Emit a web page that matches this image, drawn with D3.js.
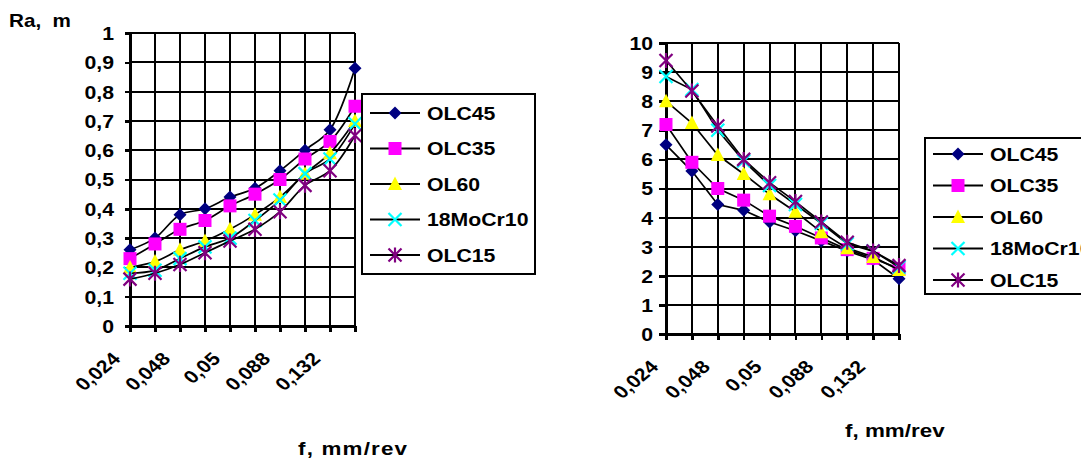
<!DOCTYPE html>
<html>
  <head>
    <meta charset="utf-8">
    <title>Roughness vs feed</title>
    <script src="https://d3js.org/d3.v7.min.js"></script>
    <style>
      body { margin: 0; background: white; }
      svg { display: block; font-family: Arial, "Liberation Sans", sans-serif; font-weight: bold; }
      .grid line { stroke: black; stroke-width: 2; shape-rendering: crispEdges; }
      .axis path, .axis line { stroke: black; stroke-width: 2.5; shape-rendering: crispEdges; }
      .axis text { fill: black; }
      .series { fill: none; stroke: black; stroke-width: 1.7; }
      .legendBox { fill: white; stroke: black; stroke-width: 2; shape-rendering: crispEdges; }
    </style>
  </head>
  <body>
    <svg id="chart" width="1081" height="461"></svg>
    <script>
      // feed categories - Excel only printed every other label
      const feedLabels = ["0,024", "", "0,048", "", "0,05", "", "0,088", "", "0,132", ""];
      const steels = ["OLC45", "OLC35", "OL60", "18MoCr10", "OLC15"];

      // left chart: Ra
      const raOLC45 = [0.26, 0.30, 0.38, 0.40, 0.44, 0.47, 0.53, 0.60, 0.67, 0.88];
      const raOLC35 = [0.23, 0.28, 0.33, 0.36, 0.41, 0.45, 0.50, 0.57, 0.63, 0.75];
      const raOL60 = [0.20, 0.22, 0.26, 0.29, 0.33, 0.38, 0.44, 0.52, 0.59, 0.70];
      const raMoCr10 = [0.18, 0.19, 0.23, 0.27, 0.30, 0.36, 0.43, 0.52, 0.57, 0.69];
      const raOLC15 = [0.16, 0.18, 0.21, 0.25, 0.29, 0.33, 0.39, 0.48, 0.53, 0.65];
      const raTicks = [0, 0.1, 0.2, 0.3, 0.4, 0.5, 0.6, 0.7, 0.8, 0.9, 1];

      // right chart
      const rOLC45 = [6.5, 5.6, 4.45, 4.25, 3.85, 3.55, 3.2, 2.85, 2.55, 1.9];
      const rOLC35 = [7.2, 5.9, 5.0, 4.6, 4.05, 3.7, 3.3, 2.9, 2.6, 2.25];
      const rOL60 = [8.0, 7.25, 6.15, 5.5, 4.8, 4.2, 3.5, 2.95, 2.65, 2.2];
      const rMoCr10 = [8.85, 8.4, 7.0, 5.95, 5.1, 4.45, 3.8, 3.1, 2.85, 2.3];
      const rOLC15 = [9.4, 8.35, 7.15, 6.0, 5.2, 4.55, 3.85, 3.15, 2.85, 2.35];
      const rTicks = [0, 1, 2, 3, 4, 5, 6, 7, 8, 9, 10];

      // marker look per steel
      const markers = [
        { kind: "diamond", colour: "#000080" },
        { kind: "square", colour: "#ff00ff" },
        { kind: "triangle", colour: "#ffff00" },
        { kind: "cross", colour: "#00ffff" },
        { kind: "star", colour: "#800080" }
      ];
      const sx = 1.18; // the original picture is a bit stretched sideways

      const svg = d3.select("#chart");
      svg.append("rect").attr("width", 1081).attr("height", 461).attr("fill", "white");

      function markerPath(kind) {
        const r = 6.5;
        if (kind == "diamond") return `M0,${-r}L${r},0L0,${r}L${-r},0Z`;
        if (kind == "square") return `M${-r},${-r}H${r}V${r}H${-r}Z`;
        if (kind == "triangle") return `M0,${-r - 1}L${r + 0.5},${r - 0.5}L${-r - 0.5},${r - 0.5}Z`;
        if (kind == "cross") return `M${-r},${-r}L${r},${r}M${-r},${r}L${r},${-r}`;
        return `M${-r},${-r}L${r},${r}M${-r},${r}L${r},${-r}M0,${-r - 1}V${r + 1}`;
      }
      function drawMarker(sel, m) {
        const filled = m.kind == "diamond" || m.kind == "square" || m.kind == "triangle";
        sel.attr("d", markerPath(m.kind))
          .attr("fill", filled ? m.colour : "none")
          .attr("stroke", filled ? "none" : m.colour)
          .attr("stroke-width", filled ? 0 : 2.2);
      }
      function stretchedText(g, x, y, str, size) {
        return g.append("text")
          .attr("transform", `translate(${x},${y}) scale(${sx},1)`)
          .attr("font-size", size)
          .style("white-space", "pre")
          .text(str);
      }

      function drawChart(cfg) {
        const g = svg.append("g");
        const x = d3.scalePoint()
          .domain(d3.range(feedLabels.length))
          .range([cfg.left, cfg.right]);
        const y = d3.scaleLinear()
          .domain([0, cfg.ticks[cfg.ticks.length - 1]])
          .range([cfg.bottom, cfg.top]);
        // grid
        const grid = g.append("g").classed("grid", true);
        grid.selectAll(".h").data(cfg.ticks)
          .join("line").classed("h", true)
            .attr("x1", cfg.left).attr("x2", cfg.right)
            .attr("y1", d => Math.round(y(d))).attr("y2", d => Math.round(y(d)));
        grid.selectAll(".v").data(x.domain())
          .join("line").classed("v", true)
            .attr("x1", d => Math.round(x(d))).attr("x2", d => Math.round(x(d)))
            .attr("y1", cfg.top).attr("y2", cfg.bottom);
        // axes
        const yAxis = g.append("g").classed("axis", true)
          .attr("transform", `translate(${cfg.left},0)`)
          .call(d3.axisLeft(y)
            .tickValues(cfg.ticks)
            .tickFormat(d => String(d).replace(".", ","))
            .tickSizeInner(cfg.yTick)
            .tickSizeOuter(0));
        yAxis.attr("font-size", null).attr("font-family", null);
        yAxis.selectAll("text")
          .attr("x", null).attr("dy", "0.36em")
          .attr("font-size", 18)
          .attr("transform", `translate(${-cfg.yGap},0) scale(${sx},1)`);
        const xAxis = g.append("g").classed("axis", true)
          .attr("transform", `translate(0,${cfg.bottom})`)
          .call(d3.axisBottom(x)
            .tickFormat(i => feedLabels[i])
            .tickSizeInner(6)
            .tickSizeOuter(0));
        xAxis.attr("font-size", null).attr("font-family", null);
        xAxis.selectAll("text")
          .attr("y", null).attr("dy", null)
          .attr("font-size", 18)
          .style("text-anchor", "end")
          .attr("transform", `translate(${cfg.xLabelDx},${cfg.xLabelDy}) scale(${sx},1) rotate(-45)`);
        // series
        const line = d3.line()
          .x((d, i) => x(i))
          .y(d => y(d))
          .curve(cfg.curve);
        cfg.series.forEach((values, s) => {
          g.append("path").classed("series", true).attr("d", line(values));
          g.append("g").selectAll("path").data(values)
            .join("path")
              .attr("transform", (d, i) => `translate(${x(i)},${y(d)})`)
              .call(drawMarker, markers[s]);
        });
        // titles
        stretchedText(g, cfg.xTitle[0], cfg.xTitle[1], "f, mm/rev", 19)
          .attr("letter-spacing", cfg.xTitle[2]);
        if (cfg.yTitle) stretchedText(g, cfg.yTitle[0], cfg.yTitle[1], "Ra,  m", 17.5);
        // legend
        const lg = cfg.legend;
        g.append("rect").classed("legendBox", true)
          .attr("x", lg.x).attr("y", lg.y).attr("width", lg.w).attr("height", lg.h);
        steels.forEach((name, s) => {
          const ly = lg.first + s * lg.step;
          g.append("line")
            .attr("x1", lg.x + 8).attr("x2", lg.x + 58)
            .attr("y1", ly).attr("y2", ly)
            .attr("stroke", "black").attr("stroke-width", 2);
          g.append("path")
            .attr("transform", `translate(${lg.x + 33},${ly})`)
            .call(drawMarker, markers[s]);
          stretchedText(g, lg.x + 65, ly + 6.5, name, 18);
        });
      }

      drawChart({
        left: 130, right: 355, top: 33, bottom: 326,
        ticks: raTicks, yTick: 5, yGap: 16,
        xLabelDx: -9, xLabelDy: 34,
        curve: d3.curveCatmullRom,
        series: [raOLC45, raOLC35, raOL60, raMoCr10, raOLC15],
        xTitle: [298, 455, 1],
        yTitle: [9, 27],
        legend: { x: 362, y: 94, w: 173, h: 180, first: 113, step: 35.5 }
      });
      drawChart({
        left: 666, right: 899, top: 43, bottom: 334,
        ticks: rTicks, yTick: 7, yGap: 13,
        xLabelDx: -7, xLabelDy: 34,
        curve: d3.curveLinear,
        series: [rOLC45, rOLC35, rOL60, rMoCr10, rOLC15],
        xTitle: [845, 437, 0],
        yTitle: null,
        legend: { x: 925, y: 138, w: 180, h: 156, first: 154, step: 31.5 }
      });
    </script>
  </body>
</html>
